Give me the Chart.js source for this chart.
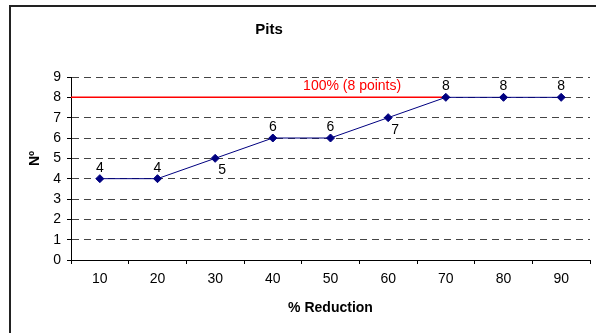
<!DOCTYPE html>
<html>
<head>
<meta charset="utf-8">
<script src="https://cdn.jsdelivr.net/npm/chart.js@4/dist/chart.umd.min.js"></script>
<style>
  html, body { margin: 0; padding: 0; background: #fff; overflow: hidden; }
  canvas { display: block; }
</style>
</head>
<body>
<canvas id="c" width="596" height="333"></canvas>
<script>
// Number of pits per reduction step
const categories = ['10', '20', '30', '40', '50', '60', '70', '80', '90'];
const pits = [4, 4, 5, 6, 6, 7, 8, 8, 8];
const labelSide = ['above', 'above', 'below', 'above', 'above', 'below', 'above', 'above', 'above'];
const yTickValues = [0, 1, 2, 3, 4, 5, 6, 7, 8, 9];

// Reference level (full score)
const targetValue = 8;
const targetEndCategory = '70';
const targetLabel = '100% (8 points)';

const chartTitle = 'Pits';
const xTitle = '% Reduction';
const yTitle = 'Nº';

const FONT = '"Liberation Sans", Arial, Helvetica, sans-serif';
const NAVY = '#000080';

const decor = {
  id: 'decor',
  beforeDraw(chart) {
    const ctx = chart.ctx;
    ctx.save();
    ctx.fillStyle = '#fff';
    ctx.fillRect(0, 0, chart.width, chart.height);
    // outer frame
    ctx.strokeStyle = '#222';
    ctx.lineWidth = 2;
    ctx.strokeRect(10, 6, chart.width + 40, chart.height + 40);
    ctx.restore();
  },
  beforeDatasetsDraw(chart) {
    const {ctx, chartArea, scales: {x, y}} = chart;
    const yPix = y.getPixelForValue(targetValue);
    const xEnd = x.getPixelForValue(categories.indexOf(targetEndCategory));
    ctx.save();
    ctx.strokeStyle = '#ff0000';
    ctx.lineWidth = 1.5;
    ctx.beginPath();
    ctx.moveTo(chartArea.left, yPix);
    ctx.lineTo(xEnd, yPix);
    ctx.stroke();
    ctx.fillStyle = '#ff0000';
    ctx.font = '14px ' + FONT;
    ctx.textAlign = 'center';
    ctx.textBaseline = 'middle';
    ctx.fillText(targetLabel, chartArea.left + (xEnd - chartArea.left) * 0.75, yPix - 11);
    ctx.restore();
  },
  afterDatasetsDraw(chart) {
    const ctx = chart.ctx;
    const meta = chart.getDatasetMeta(0);
    ctx.save();
    ctx.fillStyle = '#000';
    ctx.font = '14px ' + FONT;
    ctx.textAlign = 'center';
    ctx.textBaseline = 'middle';
    meta.data.forEach((pt, i) => {
      const txt = String(pits[i]);
      if (labelSide[i] === 'below') {
        ctx.fillText(txt, pt.x + 7, pt.y + 12);
      } else {
        ctx.fillText(txt, pt.x, pt.y - 11);
      }
    });
    ctx.restore();
  },
  afterDraw(chart) {
    const {ctx, chartArea} = chart;
    ctx.save();
    ctx.fillStyle = '#000';
    ctx.textAlign = 'center';
    ctx.textBaseline = 'middle';
    ctx.font = 'bold 15px ' + FONT;
    ctx.fillText(chartTitle, 269, 30);
    ctx.font = 'bold 14px ' + FONT;
    ctx.fillText(xTitle, (chartArea.left + chartArea.right) / 2, 308);
    ctx.translate(35, chartArea.top + (chartArea.bottom - chartArea.top) * 0.445);
    ctx.rotate(-Math.PI / 2);
    ctx.fillText(yTitle, 0, 0);
    ctx.restore();
  }
};

new Chart(document.getElementById('c'), {
  type: 'line',
  data: {
    labels: categories,
    datasets: [{
      data: pits,
      borderColor: NAVY,
      backgroundColor: NAVY,
      borderWidth: 1,
      pointStyle: 'rectRot',
      pointRadius: 4,
      pointBorderWidth: 1,
      pointBackgroundColor: NAVY,
      pointBorderColor: NAVY,
      tension: 0,
      fill: false
    }]
  },
  options: {
    responsive: false,
    animation: false,
    devicePixelRatio: 1,
    layout: { padding: { top: 77, right: 6, bottom: 0, left: 0 } },
    plugins: {
      legend: { display: false },
      tooltip: { enabled: false },
      title: { display: false }
    },
    scales: {
      x: {
        type: 'category',
        offset: true,
        afterFit(scale) { scale.height = 73; },
        grid: {
          display: true,
          drawOnChartArea: false,
          drawTicks: true,
          tickLength: 4,
          tickColor: '#000',
          offset: true
        },
        border: { display: true, color: '#000', width: 1 },
        ticks: {
          color: '#000',
          font: { family: FONT, size: 14 },
          padding: 7,
          maxRotation: 0,
          autoSkip: false
        }
      },
      y: {
        min: 0,
        max: 9,
        afterFit(scale) { scale.width = 71; },
        afterBuildTicks(scale) { scale.ticks = yTickValues.map(v => ({ value: v })); },
        grid: {
          color: '#444',
          lineWidth: 1,
          drawTicks: true,
          tickLength: 4,
          tickColor: '#000'
        },
        border: { display: true, color: '#000', width: 1, dash: [7, 5] },
        ticks: {
          color: '#000',
          font: { family: FONT, size: 14 },
          padding: 6
        }
      }
    }
  },
  plugins: [decor]
});
</script>
</body>
</html>
